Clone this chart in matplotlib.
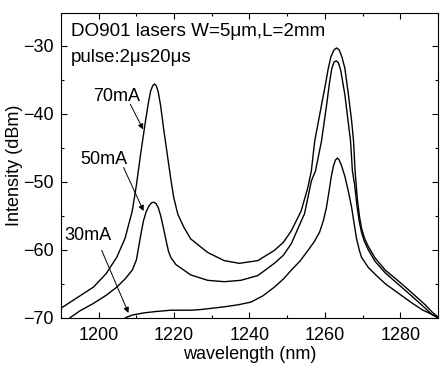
import numpy as np
import matplotlib
matplotlib.use('Agg')
import matplotlib.pyplot as plt

plt.rcParams['font.family'] = ['Liberation Sans', 'DejaVu Sans']
plt.rcParams['font.size'] = 13

# 70mA trace
wl70 = [1190, 1195, 1198.6, 1202, 1204.8, 1207, 1208.9, 1210, 1211.1, 1212.4,
        1213.2, 1213.8, 1214.3, 1214.8, 1215.3, 1215.8, 1216.4, 1217.3, 1218.2, 1219.1,
        1219.9, 1221, 1222.6, 1224.4, 1227.1, 1228.9, 1233.3, 1237.3, 1242.2, 1246.6,
        1249, 1251.1, 1253.7, 1255.5, 1256.4, 1257.3, 1259.1, 1260.2, 1260.9, 1261.6,
        1262.4, 1263.1, 1263.8, 1264.5, 1265.3, 1266.2, 1267.1, 1267.6, 1268, 1268.6,
        1269.2, 1269.7, 1270.5, 1271.5, 1273.3, 1276, 1279.5, 1283, 1286.6, 1288.5, 1290]
p70 = [-68.6, -66.8, -65.5, -63.5, -61.1, -58.3, -54.3, -50.5, -46, -41.1,
       -38.3, -36.6, -35.9, -35.6, -35.9, -36.8, -38.7, -42.5, -46, -49.5,
       -52.3, -54.8, -56.7, -58.4, -59.6, -60.4, -61.6, -62, -61.6, -60.1,
       -58.9, -57.2, -54.3, -50.8, -48.4, -44, -38.7, -35.5, -33.3, -31.6,
       -30.6, -30.3, -30.6, -31.6, -33.3, -37, -41.1, -44, -48.4, -52.5,
       -55.2, -56.8, -58.3, -59.5, -61.2, -63, -64.6, -66.3, -68.1, -69.2, -69.9]

# 50mA trace
wl50 = [1192.4, 1195, 1198.6, 1202, 1204.8, 1207, 1208.9, 1210, 1210.6, 1211.3,
        1211.9, 1212.6, 1213.3, 1214, 1214.6, 1215.2, 1215.8, 1216.4, 1217.1, 1217.7,
        1218.5, 1219.1, 1220.5, 1222.6, 1224.4, 1228.9, 1233.3, 1237.7, 1242.2, 1246.6,
        1249, 1251.1, 1253.7, 1254.6, 1256.4, 1257.5, 1259.1, 1260.5, 1261.2, 1261.8,
        1262.4, 1263.0, 1263.6, 1264.2, 1265.3, 1266.8, 1267.3, 1267.9, 1268.5, 1269.1,
        1269.7, 1270.5, 1271.5, 1273.3, 1276, 1279.5, 1283, 1286.6, 1288.5, 1290]
p50 = [-70, -69, -67.9, -66.7, -65.5, -64.3, -63, -61.5, -59.6, -57.4,
       -55.7, -54.4, -53.6, -53.1, -53, -53.2, -53.8, -54.9, -56.6, -58.2,
       -60.2, -61.1, -62.2, -63, -63.7, -64.5, -64.7, -64.5, -63.8, -62,
       -60.8, -59.1, -55.8, -54.7, -49.9, -48.4, -44, -38.5, -35.5, -33.4,
       -32.4, -32.2, -32.5, -33.6, -37.2, -44, -48.4, -50.5, -53.5, -55.8,
       -57.4, -58.8, -60, -61.7, -63.4, -65.1, -66.8, -68.6, -69.6, -70]

# 30mA trace
wl30 = [1207.1, 1209, 1211.9, 1215, 1219.1, 1224.4, 1227.1, 1233.3, 1237, 1240.4,
        1243.5, 1246.6, 1249, 1251.1, 1253.5, 1255.5, 1257.2, 1258.6, 1259.6, 1260.4,
        1261.1, 1261.7, 1262.3, 1262.8, 1263.3, 1263.8, 1264.4, 1265.3, 1266.3, 1267.1,
        1267.8, 1268.4, 1269.1, 1269.7, 1271.5, 1273.3, 1276, 1279.5, 1283, 1286,
        1288.4, 1290]
p30 = [-70, -69.6, -69.3, -69.1, -68.9, -68.9, -68.8, -68.4, -68.1, -67.7,
       -66.8, -65.5, -64.3, -63, -61.6, -60.1, -58.8, -57.4, -55.7, -53.8,
       -51.4, -49.2, -47.6, -46.8, -46.5, -46.8, -47.6, -49.2, -51.6, -53.8,
       -56.3, -58.4, -60, -61.1, -62.6, -63.6, -65, -66.4, -67.8, -68.9,
       -69.5, -70]

fig = plt.figure(figsize=(4.41, 3.68), dpi=100)
ax = fig.add_axes([0.1383, 0.1367, 0.8549, 0.8272])

for wl, p in [(wl70, p70), (wl50, p50), (wl30, p30)]:
    ax.plot(wl, p, color='k', lw=1.0)

ax.set_xlim(1190, 1290)
ax.set_ylim(-70, -25.2)
ax.set_xticks(np.arange(1200, 1290, 20))
ax.set_xticks(np.arange(1190, 1291, 10), minor=True)
ax.set_yticks(np.arange(-70, -29, 10))
ax.set_yticks(np.arange(-70, -25, 5), minor=True)
ax.tick_params(which='both', direction='in', top=True, right=True, width=0.8)
ax.tick_params(which='major', length=4.5)
ax.tick_params(which='minor', length=2.3)
ax.tick_params(axis='y', pad=5)
ax.tick_params(axis='x', pad=7)
for s in ax.spines.values():
    s.set_linewidth(0.8)

ax.set_xlabel('wavelength (nm)', labelpad=1)
ax.set_ylabel('Intensity (dBm)', labelpad=0)

ax.text(0.027, 0.939, 'DO901 lasers W=5\u03bcm,L=2mm', transform=ax.transAxes,
        va='center', fontsize=13.6)
ax.text(0.027, 0.856, 'pulse:2\u03bcs20\u03bcs', transform=ax.transAxes,
        va='center', fontsize=13.4)

arrow = dict(arrowstyle='-|>', color='k', lw=0.7, mutation_scale=8, shrinkA=0, shrinkB=0)
ax.text(1204.7, -37.4, '70mA', ha='center', va='center')
ax.annotate('', xy=(1211.8, -42.3), xytext=(1208.4, -38.6), arrowprops=arrow)
ax.text(1201.3, -46.7, '50mA', ha='center', va='center')
ax.annotate('', xy=(1211.9, -54.3), xytext=(1206.6, -47.9), arrowprops=arrow)
ax.text(1197.1, -57.9, '30mA', ha='center', va='center')
ax.annotate('', xy=(1207.9, -69.3), xytext=(1200.8, -60.1), arrowprops=arrow)

fig.savefig('out.png', dpi=100)
